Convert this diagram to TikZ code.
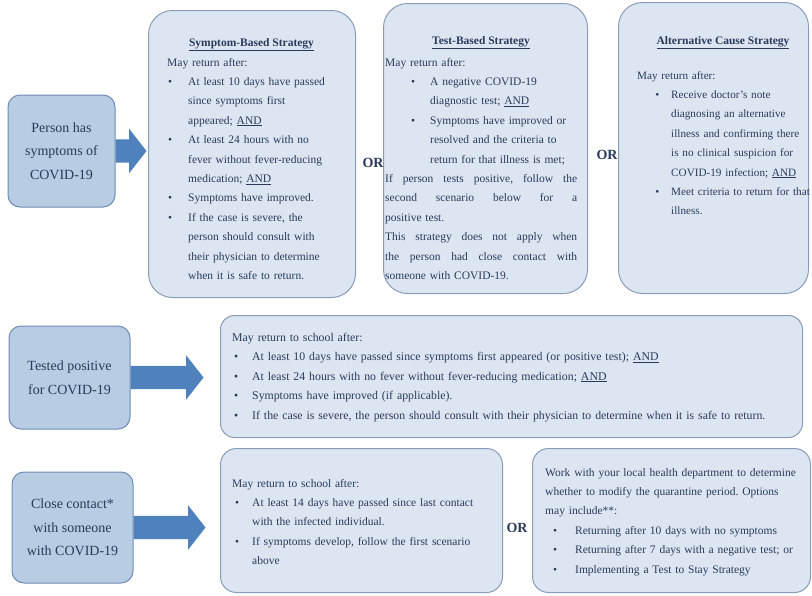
\documentclass[tikz,border=0pt]{standalone}
\usepackage{fontspec}
\setmainfont{Liberation Serif}
\usepackage{enumitem}
\usetikzlibrary{shapes.arrows}
\setlist[itemize]{label=\textbullet, topsep=0pt, partopsep=0pt, itemsep=0pt, parsep=0pt}
\definecolor{boxfill}{HTML}{DCE6F2}
\definecolor{boxline}{HTML}{8A9DB8}
\definecolor{srcfill}{HTML}{B8CCE4}
\definecolor{srcline}{HTML}{6F8CB3}
\definecolor{arrowblue}{HTML}{4F81BD}
\definecolor{txt}{HTML}{2A3A5A}
\newcommand{\bodyfont}{\fontsize{11.5}{19.4}\selectfont}
\newcommand{\justline}[1]{\makebox[192pt][s]{\spaceskip=0pt\xspaceskip=0pt\relax #1}}
\frenchspacing

\begin{document}
\begin{tikzpicture}[x=1pt, y=-1pt,
    bigbox/.style={draw=boxline, fill=boxfill, line width=1pt, anchor=north west, inner sep=0pt},
    srcbox/.style={draw=srcline, fill=srcfill, line width=1pt, rounded corners=12pt, align=center,
        text=txt, font=\rmfamily\fontsize{14}{23.5}\selectfont, inner sep=0pt},
    bigarrow/.style={single arrow, fill=arrowblue, draw=none, inner xsep=0pt, inner ysep=11.5pt,
        single arrow head extend=10.5pt, single arrow tip angle=104, single arrow head indent=0pt,
        anchor=tail, outer sep=0pt},
    boxtitle/.style={anchor=base, text=txt, font=\bodyfont\bfseries, inner sep=0pt},
    boxtext/.style={anchor=base west, text=txt, font=\bodyfont, align=left, inner sep=0pt},
    orlabel/.style={text=txt, font=\fontsize{14}{16}\selectfont\bfseries, inner sep=0pt}]
        \fill[white] (0, 0) rectangle (812, 595);
        \useasboundingbox (0, 0) rectangle (812, 595);

        % 左侧三种情况
        \node[srcbox, minimum width=107pt, minimum height=112pt] (person) at (61.5, 151) {Person has\\symptoms of\\COVID-19};
        \node[srcbox, minimum width=121pt, minimum height=103pt] (tested) at (69.5, 377.5) {Tested positive\\for COVID-19};
        \node[srcbox, minimum width=121pt, minimum height=111pt] (contact) at (72.5, 527.5) {Close contact*\\with someone\\with COVID-19};

        % 右侧方框
        \node[bigbox, rounded corners=24pt, minimum width=207pt, minimum height=287pt] (symptBox) at (148, 10) {};
        \node[bigbox, rounded corners=24pt, minimum width=204pt, minimum height=290pt] (testBox) at (383, 3) {};
        \node[bigbox, rounded corners=24pt, minimum width=190pt, minimum height=291pt] (altBox) at (618, 2) {};
        \node[bigbox, rounded corners=14pt, minimum width=582pt, minimum height=122pt] (posBox) at (220, 315) {};
        \node[bigbox, rounded corners=16pt, minimum width=282pt, minimum height=144pt] (contactBox) at (220, 448) {};
        \node[bigbox, rounded corners=16pt, minimum width=278pt, minimum height=144pt] (healthBox) at (532, 448) {};

        % 箭头
        \foreach \src/\len in {person/31, tested/73, contact/72}
            {
                \node[bigarrow, minimum height=\len pt] (arr-\src) at (\src.east) {};
            }

        \foreach \i/\x/\y in {1/373/163, 2/607/155, 3/517/528}
            {
                \node[orlabel] (or\i) at (\x, \y) {OR};
            }

        \node[boxtitle] (symptTitle) at (251.5, 46) {\underline{Symptom-Based Strategy}};
        \node[boxtext, text width=182pt] (symptText) at (167, 66) {May return after:
            \begin{itemize}[leftmargin=21pt, labelsep=16pt]
                \item At least 10 days have passed\newline since symptoms first\newline appeared; \underline{AND}
                \item At least 24 hours with no\newline fever without fever-reducing\newline medication; \underline{AND}
                \item Symptoms have improved.
                \item If the case is severe, the\newline person should consult with\newline their physician to determine\newline when it is safe to return.
            \end{itemize}};

        \node[boxtitle] (testTitle) at (481, 44) {\underline{Test-Based Strategy}};
        \node[boxtext, text width=192pt] (testText) at (385, 66) {May return after:
            \begin{itemize}[leftmargin=45pt, labelsep=15pt]
                \item A negative COVID-19\newline diagnostic test; \underline{AND}
                \item Symptoms have improved or\newline resolved and the criteria to\newline return for that illness is met;
            \end{itemize}
            \justline{If person tests positive, follow the}\newline
            \justline{second scenario below for a}\newline
            positive test.\newline
            \justline{This strategy does not apply when}\newline
            \justline{the person had close contact with}\newline
            someone with COVID-19.};

        \node[boxtitle] (altTitle) at (723, 44) {\underline{Alternative Cause Strategy}};
        \node[boxtext, text width=190pt, font=\fontsize{11.2}{19.4}\selectfont] (altText) at (637, 79) {May return after:
            \begin{itemize}[leftmargin=34pt, labelsep=12pt]
                \item Receive doctor's note\newline diagnosing an alternative\newline illness and confirming there\newline is no clinical suspicion for\newline COVID-19 infection; \underline{AND}
                \item Meet criteria to return for that\newline illness.
            \end{itemize}};

        \node[boxtext, text width=565pt, font=\fontsize{11.8}{19.6}\selectfont] (posText) at (232, 341) {May return to school after:
            \begin{itemize}[leftmargin=20pt, labelsep=14pt]
                \item At least 10 days have passed since symptoms first appeared (or positive test); \underline{AND}
                \item At least 24 hours with no fever without fever-reducing medication; \underline{AND}
                \item Symptoms have improved (if applicable).
                \item If the case is severe, the person should consult with their physician to determine when it is safe to return.
            \end{itemize}};

        \node[boxtext, text width=265pt] (contactText) at (232, 487) {May return to school after:
            \begin{itemize}[leftmargin=20pt, labelsep=13pt]
                \item At least 14 days have passed since last contact\newline with the infected individual.
                \item If symptoms develop, follow the first scenario\newline above
            \end{itemize}};

        \node[boxtext, text width=265pt] (healthText) at (545, 476) {Work with your local health department to determine\newline whether to modify the quarantine period. Options\newline may include**:
            \begin{itemize}[leftmargin=30pt, labelsep=18pt]
                \item Returning after 10 days with no symptoms
                \item Returning after 7 days with a negative test; or
                \item Implementing a Test to Stay Strategy
            \end{itemize}};
    \end{tikzpicture}
\end{document}
